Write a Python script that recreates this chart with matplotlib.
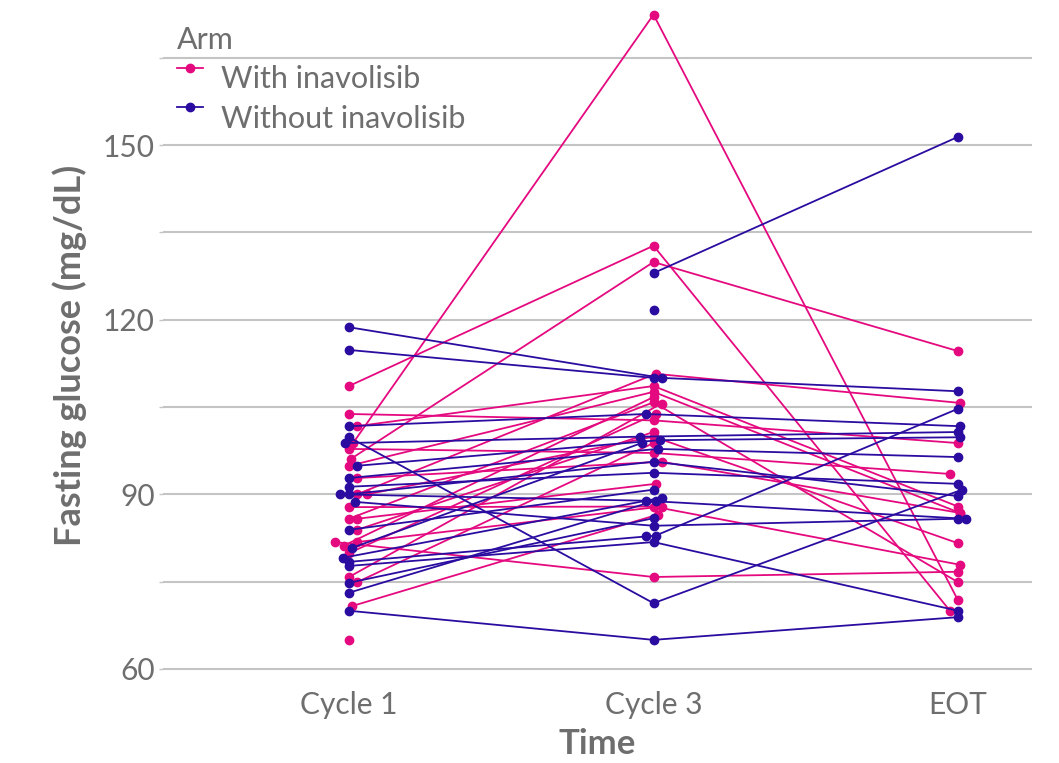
import numpy as np
import matplotlib
matplotlib.use("Agg")
import matplotlib.pyplot as plt
from matplotlib.lines import Line2D
from matplotlib.legend_handler import HandlerLine2D
from matplotlib.ticker import MultipleLocator

plt.rcParams['font.family'] = ['Lato', 'DejaVu Sans']

timepoints = ["Cycle 1", "Cycle 3", "EOT"]
arms = ["With inavolisib", "Without inavolisib"]
nan = np.nan

# With inavolisib: one row per patient (Cycle 1, Cycle 3, EOT)
with_c1 = [98.8, 108.6, 96.1, 103.8, 101.7, 97.8, 94.9, 92.8, 90.0, 90.0, 87.8,
           85.8, 85.8, 83.9, 81.8, 81.2, 81.8, 79.9, 75.8, 74.9, 70.8, 65.0]
with_c3 = [172.4, 132.7, 129.9, 102.7, 108.6, 97.1, 107.6, 95.6, 110.7, 99.9, 87.9,
           105.8, 91.8, 100.7, 75.8, 106.7, 87.9, 103.8, 105.6, 98.8, 86.5, nan]
with_eot = [71.8, 70.0, 114.6, 98.8, 87.9, 93.5, 86.8, 86.8, 105.7, 81.6, 77.9,
            74.9, nan, nan, 76.7, nan, nan, nan, nan, nan, nan, nan]
# horizontal jitter (pixels) of each point
with_j1 = [4, 0, 2, 0, 8, 0, 0, 8, 8, 18, 0, 0, 8, 8, -14, -5, 8, 0, 0, 8, 3, 0]
with_j3 = [0, 0, 0, 0, 0, 0, 0, 8, 2, 0, 0, 0, 2, 0, 0, 0, 8, 2, 8, 0, 4, 0]
with_je = [0, -8, 0, 0, 0, -8, 2, 2, 2, 0, 2, 0, 0, 0, 0, 0, 0, 0, 0, 0, 0, 0]

# Without inavolisib
wo_c1 = [118.7, 114.8, nan, nan, 99.8, 101.7, 98.8, 94.9, 92.8, 91.3, 90.0,
         90.0, 88.7, 83.9, 80.8, 79.1, 78.4, 77.7, 74.8, 73.1, 70.0, nan]
wo_c3 = [110.0, 110.0, 128.0, 121.7, 71.3, 103.8, 99.9, 99.3, 97.8, 93.7, 88.9,
         95.6, 84.6, 90.8, 98.8, 89.4, 82.9, 81.8, 85.9, 88.9, 65.0, 82.9]
wo_eot = [107.7, nan, 151.4, nan, 90.8, 101.7, 100.7, 99.8, 96.4, 91.8, 85.8,
          89.7, 85.8, nan, nan, nan, 104.7, 70.0, nan, nan, 68.9, nan]
wo_j1 = [0, 0, 0, 0, 0, 0, -4, 8, 0, 0, -9, 0, 6, 0, 3, -6, 0, 0, 0, 0, 0, 0]
wo_j3 = [8, 0, 0, 0, 0, -8, -14, 6, 4, 0, -8, 0, 0, 0, -12, 8, 2, 0, 0, 2, 0, -8]
wo_je = [0, 0, 0, 0, 4, 2, 0, 2, 0, 0, 8, 0, 0, 0, 0, 0, 0, 0, 0, 0, 0, 0]

colors = {"With inavolisib": "#E5097F", "Without inavolisib": "#2B0CA0"}
grey = "#6E6E6E"
MS = 6.0
LW = 1.3

fig = plt.figure(figsize=(10.59, 7.63), dpi=100)
ax = fig.add_axes([163 / 1059, 1 - 672 / 763, (1032 - 163) / 1059, 667 / 763])

px_per_unit = 304.5
xc = np.array([1.0, 2.0, 3.0])

def draw(c1, c3, eot, j1, j3, je, color):
    for i in range(len(c1)):
        ys = np.array([c1[i], c3[i], eot[i]], dtype=float)
        xs = xc + np.array([j1[i], j3[i], je[i]]) / px_per_unit
        ok = ~np.isnan(ys)
        ax.plot(xs[ok], ys[ok], color=color, lw=LW, marker="o", ms=MS,
                solid_capstyle="butt", zorder=3)

draw(with_c1, with_c3, with_eot, with_j1, with_j3, with_je, colors[arms[0]])
draw(wo_c1, wo_c3, wo_eot, wo_j1, wo_j3, wo_je, colors[arms[1]])

ax.set_xlim(1 - 186 / px_per_unit, 3 + 74 / px_per_unit)
ax.set_ylim(59.48, 174.05)
ax.set_xticks(xc)
ax.set_xticklabels(timepoints)
ax.yaxis.set_major_locator(MultipleLocator(30))
ax.yaxis.set_minor_locator(MultipleLocator(15))
ax.grid(axis="y", which="both", color="#C4C4C4", lw=1.5, zorder=0)
ax.set_axisbelow(True)
for s in ax.spines.values():
    s.set_visible(False)
ax.tick_params(axis="y", which="both", length=3, width=1, color="#C4C4C4",
               labelsize=21.5, labelcolor=grey, pad=3)
ax.tick_params(axis="x", length=0, labelsize=21.5, labelcolor=grey, pad=14)
ax.set_xlabel("Time", fontsize=25, fontweight="bold", color=grey, labelpad=6)
ax.set_ylabel("Fasting glucose (mg/dL)", fontsize=26, fontweight="bold",
              color=grey)
ax.yaxis.set_label_coords(-0.087, 0.475)


class RaisedHandler(HandlerLine2D):
    def create_artists(self, legend, orig_handle, xdescent, ydescent,
                       width, height, fontsize, trans):
        arts = super().create_artists(legend, orig_handle, xdescent, ydescent,
                                      width, height, fontsize, trans)
        for a in arts:
            a.set_ydata(np.asarray(a.get_ydata(), dtype=float) + 7.0)
        return arts


handles = [Line2D([0], [0], color=colors[a], lw=LW, marker="o", ms=MS) for a in arms]
leg = ax.legend(handles, arms, title="Arm", loc="upper left",
                bbox_to_anchor=(177 / 1059, 1 - 26 / 763), bbox_transform=fig.transFigure,
                frameon=False, fontsize=22, title_fontsize=22, handlelength=0.85,
                handletextpad=0.6, labelspacing=0.38, borderaxespad=0, borderpad=0,
                handler_map={Line2D: RaisedHandler(numpoints=1)})
leg._legend_box.align = "left"
leg._legend_box.sep = 8
for t in leg.get_texts():
    t.set_color(grey)
leg.get_title().set_color(grey)

fig.savefig("out.png", dpi=100)
